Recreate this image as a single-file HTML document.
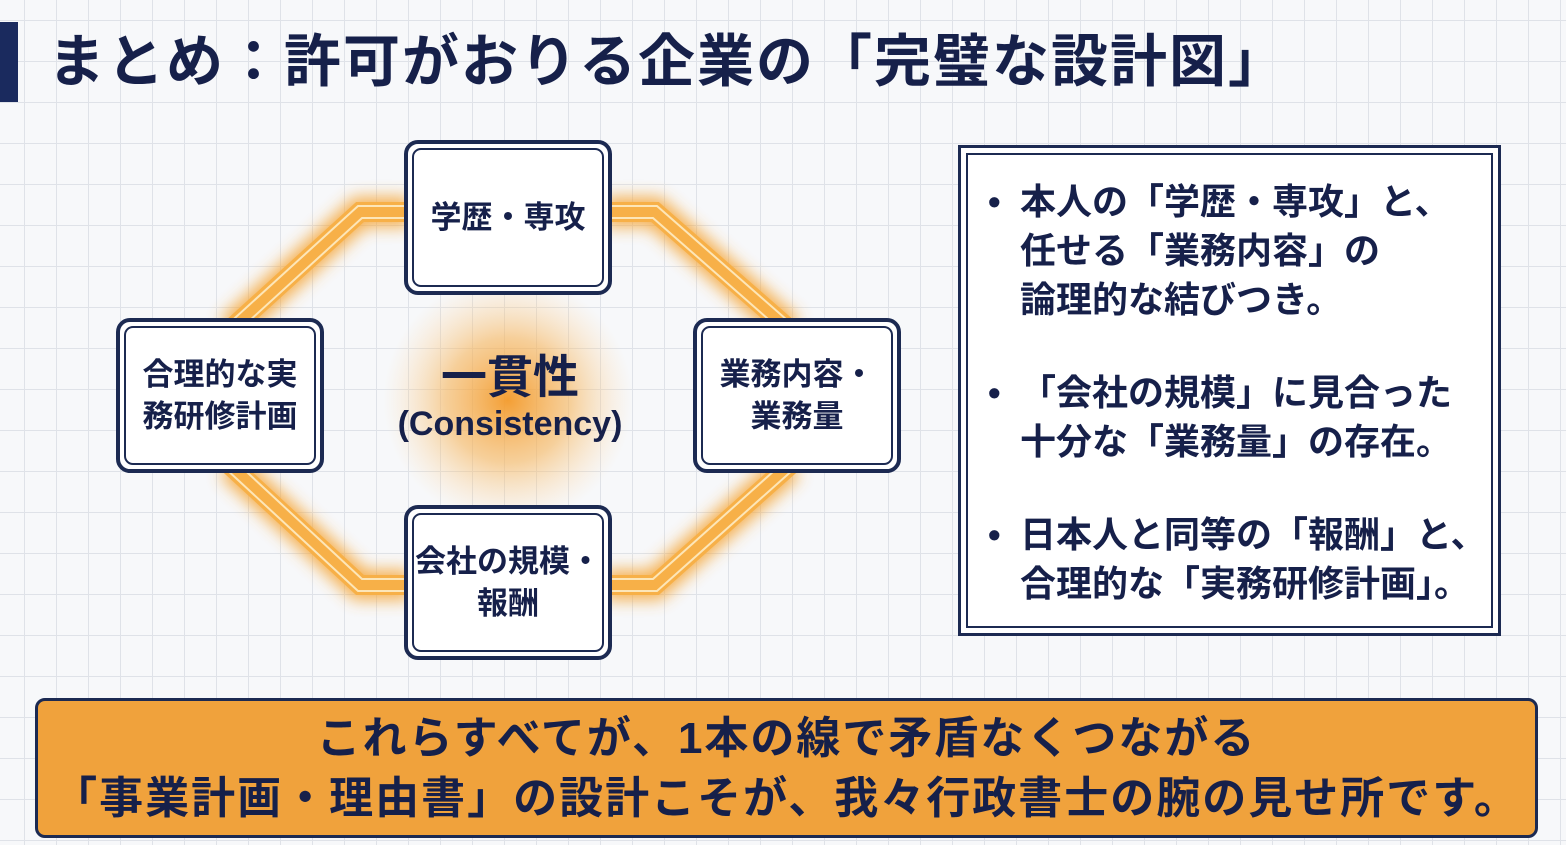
<!DOCTYPE html>
<html><head><meta charset="utf-8"><style>
*{margin:0;padding:0;box-sizing:border-box}
body{width:1566px;height:845px;overflow:hidden;position:relative;background-color:#f7f8fa;
background-image:linear-gradient(#dfe2e8 1px,transparent 1px),linear-gradient(90deg,#dfe2e8 1px,transparent 1px);
background-size:32px 41px;background-position:24px 20px;
font-family:"Liberation Sans","Noto Sans CJK JP",sans-serif;color:#16204a;font-weight:bold}
.bar{position:absolute;left:0;top:22px;width:18px;height:80px;background:#1a2a5e}
.title{position:absolute;left:48px;top:26px;font-size:57px;line-height:72px;white-space:nowrap;letter-spacing:2px}
.box{position:absolute;width:208px;height:155px;border:4px solid #1c2a52;border-radius:14px;background:#fff;padding:4px}
.box div{width:100%;height:100%;border:2px solid #1c2a52;border-radius:9px;display:flex;align-items:center;justify-content:center;text-align:center;font-size:31px;line-height:42px}
.panel{position:absolute;left:958px;top:145px;width:543px;height:491px;border:3px solid #1c2a52;background:#fff;padding:5px}
.panel .in{width:100%;height:100%;border:2px solid #1c2a52;padding:22px 0 0 18px;font-size:36px;line-height:49px}
.panel p{position:relative;padding-left:34px;margin-bottom:44px;white-space:nowrap}
.panel p:before{content:"•";position:absolute;left:2px}
.bottom{position:absolute;left:35px;top:698px;width:1503px;height:140px;background:#f0a23c;border:3px solid #1c2a52;border-radius:10px;text-align:center;font-size:44px;line-height:60px;padding-top:8px;letter-spacing:2px;white-space:nowrap}
.center{position:absolute;left:370px;top:350px;width:280px;text-align:center}
</style></head><body>
<div class="bar"></div>
<div class="title">まとめ：許可がおりる企業の「完璧な設計図」</div>
<svg width="1566" height="845" style="position:absolute;left:0;top:0">
<defs>
<filter id="g" x="-50%" y="-50%" width="200%" height="200%"><feGaussianBlur stdDeviation="8"/></filter>
<radialGradient id="rg"><stop offset="0" stop-color="#f39a2a" stop-opacity="0.95"/><stop offset="0.5" stop-color="#f6b45a" stop-opacity="0.6"/><stop offset="1" stop-color="#fbd9a8" stop-opacity="0"/></radialGradient>
</defs>
<ellipse cx="508" cy="400" rx="125" ry="125" fill="url(#rg)"/>
<path d="M410 212 L360 212 L230 330 M230 465 L360 585 L410 585 M605 212 L655 212 L790 330 M790 465 L655 585 L605 585" fill="none" stroke="#f5a83c" stroke-width="30" filter="url(#g)" opacity="0.9"/>
<path d="M410 212 L360 212 L230 330 M230 465 L360 585 L410 585 M605 212 L655 212 L790 330 M790 465 L655 585 L605 585" fill="none" stroke="#f7b048" stroke-width="20"/>
<path d="M410 206 L358 206 L225 327 M225 468 L358 591 L410 591 M605 206 L657 206 L795 327 M795 468 L657 591 L605 591" fill="none" stroke="#fde6b8" stroke-width="2"/>
<path d="M410 218 L362 218 L236 333 M236 462 L362 579 L410 579 M605 218 L653 218 L784 333 M784 462 L653 579 L605 579" fill="none" stroke="#fde6b8" stroke-width="2"/>
</svg>
<div class="center"><div style="font-size:46px;line-height:54px">一貫性</div><div style="font-size:34px;line-height:40px">(Consistency)</div></div>
<div class="box" style="left:404px;top:140px"><div>学歴・専攻</div></div>
<div class="box" style="left:116px;top:318px"><div>合理的な実<br>務研修計画</div></div>
<div class="box" style="left:693px;top:318px"><div>業務内容・<br>業務量</div></div>
<div class="box" style="left:404px;top:505px"><div>会社の規模・<br>報酬</div></div>
<div class="panel"><div class="in">
<p>本人の「学歴・専攻」と、<br>任せる「業務内容」の<br>論理的な結びつき。</p>
<p>「会社の規模」に見合った<br>十分な「業務量」の存在。</p>
<p>日本人と同等の「報酬」と、<br>合理的な「実務研修計画」。</p>
</div></div>
<div class="bottom">これらすべてが、1本の線で矛盾なくつながる<br>「事業計画・理由書」の設計こそが、我々行政書士の腕の見せ所です。</div>
</body></html>
